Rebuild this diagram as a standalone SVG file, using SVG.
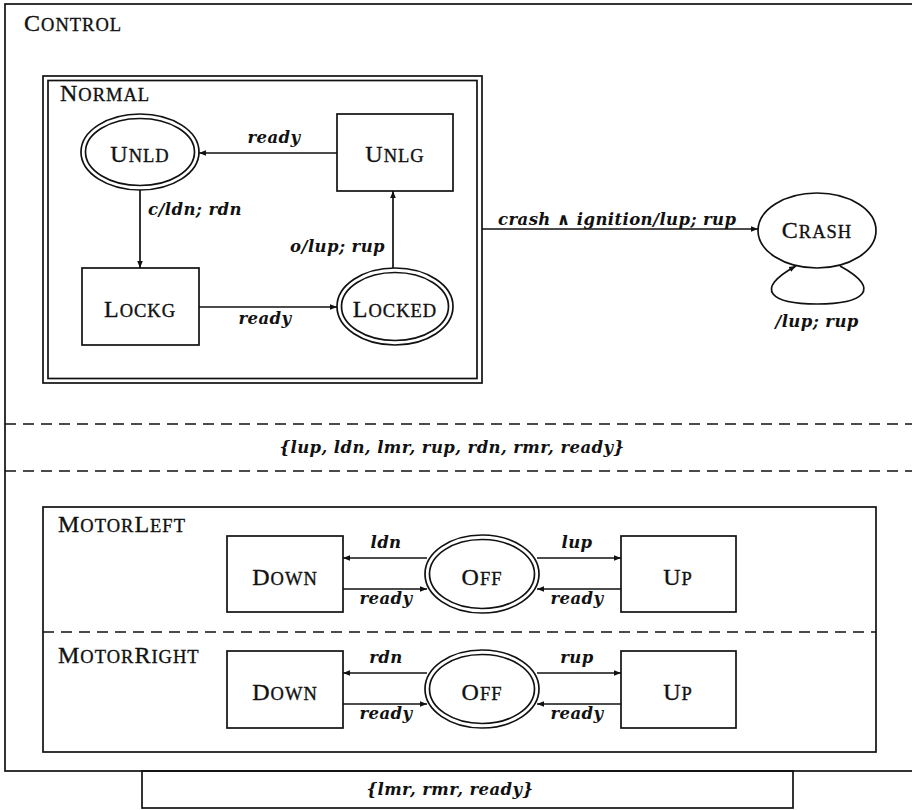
<svg xmlns="http://www.w3.org/2000/svg" width="912" height="810" viewBox="0 0 912 810">
<style>
  .ln { fill: none; stroke: #111; stroke-width: 1.7; }
  .dash { fill: none; stroke: #111; stroke-width: 1.5; stroke-dasharray: 11 7; }
  .sc { font-family: "Liberation Serif", "Times New Roman", serif; fill: #111; stroke: #111; stroke-width: 0.35; letter-spacing: 1px; }
  .big { font-size: 24px; }
  .sm { font-size: 18.5px; }
  .lab { font-family: "DejaVu Serif", "Liberation Serif", serif; font-style: italic; font-weight: bold; font-size: 16.5px; letter-spacing: 0.4px; fill: #111; }
  .mid { text-anchor: middle; }
  .end { text-anchor: end; }
</style>
<defs>
  <marker id="arr" viewBox="0 0 10 10" refX="10" refY="5" markerWidth="7" markerHeight="7" markerUnits="userSpaceOnUse" orient="auto">
    <path d="M0,1 L10,5 L0,9 Z" fill="#111"/>
  </marker>
</defs>
<rect width="912" height="810" fill="#fff"/>

<g id="control">
  <rect class="ln" x="5" y="4" width="915" height="767"/>
  <text class="sc" x="24" y="31"><tspan class="big">C</tspan><tspan class="sm">ONTROL</tspan></text>
</g>

<g id="normal">
  <rect class="ln" x="43" y="76" width="439" height="307"/>
  <rect class="ln" x="48" y="80.5" width="429" height="298"/>
  <text class="sc" x="60" y="101"><tspan class="big">N</tspan><tspan class="sm">ORMAL</tspan></text>
</g>

<g id="unld">
  <ellipse class="ln" cx="140" cy="152" rx="59" ry="38"/>
  <ellipse class="ln" cx="140" cy="152" rx="54.5" ry="33.5"/>
  <text class="sc mid" x="140" y="162"><tspan class="big">U</tspan><tspan class="sm">NLD</tspan></text>
</g>

<g id="unlg">
  <rect class="ln" x="337" y="114" width="116" height="77"/>
  <text class="sc mid" x="395" y="162"><tspan class="big">U</tspan><tspan class="sm">NLG</tspan></text>
</g>

<g id="lockg">
  <rect class="ln" x="82" y="268" width="117" height="77"/>
  <text class="sc mid" x="140" y="317"><tspan class="big">L</tspan><tspan class="sm">OCKG</tspan></text>
</g>

<g id="locked">
  <ellipse class="ln" cx="395" cy="306.5" rx="58" ry="38.5"/>
  <ellipse class="ln" cx="395" cy="306.5" rx="53.5" ry="34"/>
  <text class="sc mid" x="395" y="317"><tspan class="big">L</tspan><tspan class="sm">OCKED</tspan></text>
</g>

<g id="crash">
  <ellipse class="ln" cx="817" cy="230.5" rx="59" ry="37.5"/>
  <text class="sc mid" x="817" y="238"><tspan class="big">C</tspan><tspan class="sm">RASH</tspan></text>
</g>

<g id="sets">
  <line class="dash" x1="5" y1="424" x2="912" y2="424"/>
  <line class="dash" x1="5" y1="471" x2="912" y2="471"/>
  <text class="lab mid" x="452" y="453">{lup, ldn, lmr, rup, rdn, rmr, ready}</text>
</g>

<g id="motors">
  <rect class="ln" x="43" y="507" width="833" height="245"/>
  <line class="dash" x1="43" y1="632" x2="876" y2="632"/>
  <text class="sc" x="58" y="532"><tspan class="big">M</tspan><tspan class="sm">OTOR</tspan><tspan class="big">L</tspan><tspan class="sm">EFT</tspan></text>
  <text class="sc" x="58" y="663"><tspan class="big">M</tspan><tspan class="sm">OTOR</tspan><tspan class="big">R</tspan><tspan class="sm">IGHT</tspan></text>
</g>

<g id="down-left">
  <rect class="ln" x="227" y="536" width="116" height="76"/>
  <text class="sc mid" x="285" y="585"><tspan class="big">D</tspan><tspan class="sm">OWN</tspan></text>
</g>
<g id="off-left">
  <ellipse class="ln" cx="482" cy="574" rx="57" ry="39"/>
  <ellipse class="ln" cx="482" cy="574" rx="52.5" ry="34.5"/>
  <text class="sc mid" x="482" y="585"><tspan class="big">O</tspan><tspan class="sm">FF</tspan></text>
</g>
<g id="up-left">
  <rect class="ln" x="621" y="536" width="115" height="76"/>
  <text class="sc mid" x="678" y="585"><tspan class="big">U</tspan><tspan class="sm">P</tspan></text>
</g>

<g id="down-right">
  <rect class="ln" x="227" y="651" width="116" height="77"/>
  <text class="sc mid" x="285" y="700"><tspan class="big">D</tspan><tspan class="sm">OWN</tspan></text>
</g>
<g id="off-right">
  <ellipse class="ln" cx="482" cy="689" rx="57" ry="39"/>
  <ellipse class="ln" cx="482" cy="689" rx="52.5" ry="34.5"/>
  <text class="sc mid" x="482" y="700"><tspan class="big">O</tspan><tspan class="sm">FF</tspan></text>
</g>
<g id="up-right">
  <rect class="ln" x="621" y="651" width="115" height="77"/>
  <text class="sc mid" x="678" y="700"><tspan class="big">U</tspan><tspan class="sm">P</tspan></text>
</g>

<g id="env">
  <rect class="ln" x="142" y="771" width="651" height="37"/>
  <text class="lab mid" x="450" y="795">{lmr, rmr, ready}</text>
</g>

<g id="connectors">
  <line class="ln" x1="337" y1="153" x2="199" y2="153" marker-end="url(#arr)"/>
  <text class="lab mid" x="274" y="143">ready</text>

  <line class="ln" x1="140" y1="190" x2="140" y2="268" marker-end="url(#arr)"/>
  <text class="lab" x="148" y="215">c/ldn; rdn</text>

  <line class="ln" x1="199" y1="307" x2="337" y2="307" marker-end="url(#arr)"/>
  <text class="lab mid" x="265" y="324">ready</text>

  <line class="ln" x1="393" y1="268" x2="393" y2="191" marker-end="url(#arr)"/>
  <text class="lab end" x="385" y="252">o/lup; rup</text>

  <line class="ln" x1="482" y1="229" x2="758" y2="229" marker-end="url(#arr)"/>
  <text class="lab" x="498" y="225">crash ∧ ignition/lup; rup</text>

  <path class="ln" d="M840,266 C884,290 862,304 817,304 C772,304 752,290 796,266" marker-end="url(#arr)"/>
  <text class="lab mid" x="817" y="327">/lup; rup</text>

  <line class="ln" x1="427" y1="558" x2="343" y2="558" marker-end="url(#arr)"/>
  <text class="lab mid" x="386" y="548">ldn</text>
  <line class="ln" x1="343" y1="589" x2="427" y2="589" marker-end="url(#arr)"/>
  <text class="lab mid" x="386" y="604">ready</text>
  <line class="ln" x1="537" y1="558" x2="621" y2="558" marker-end="url(#arr)"/>
  <text class="lab mid" x="577" y="548">lup</text>
  <line class="ln" x1="621" y1="589" x2="537" y2="589" marker-end="url(#arr)"/>
  <text class="lab mid" x="577" y="604">ready</text>

  <line class="ln" x1="427" y1="673" x2="343" y2="673" marker-end="url(#arr)"/>
  <text class="lab mid" x="386" y="663">rdn</text>
  <line class="ln" x1="343" y1="704" x2="427" y2="704" marker-end="url(#arr)"/>
  <text class="lab mid" x="386" y="719">ready</text>
  <line class="ln" x1="537" y1="673" x2="621" y2="673" marker-end="url(#arr)"/>
  <text class="lab mid" x="577" y="663">rup</text>
  <line class="ln" x1="621" y1="704" x2="537" y2="704" marker-end="url(#arr)"/>
  <text class="lab mid" x="577" y="719">ready</text>
</g>
</svg>
